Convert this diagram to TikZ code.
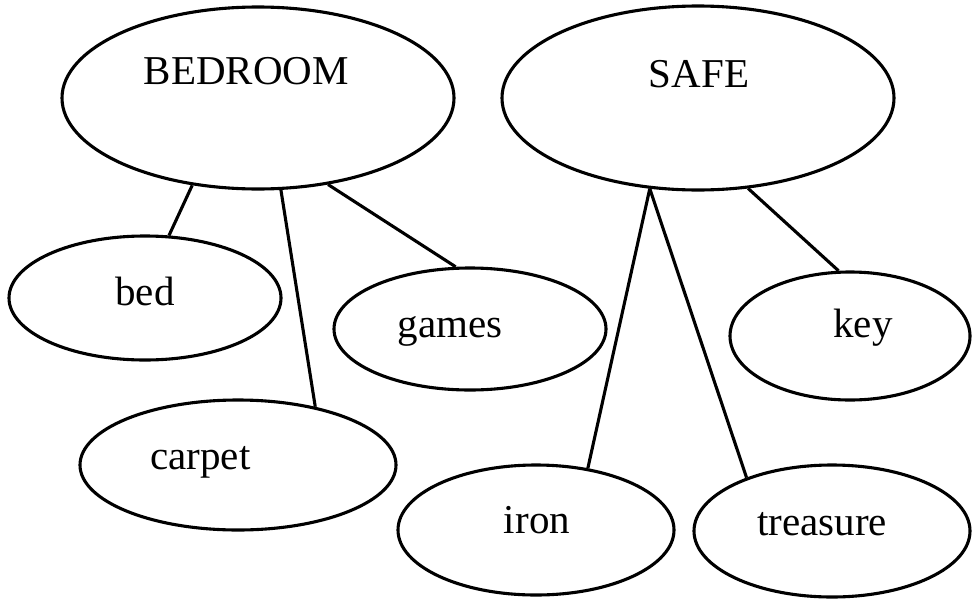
\documentclass[tikz,border=0pt]{standalone}
\usepackage{fontspec}
\setmainfont{Liberation Serif}
\usetikzlibrary{shapes.geometric}
\begin{document}
\begin{tikzpicture}[x=1pt,y=-1pt,
  oval/.style={draw,ellipse,line width=3.1pt,inner sep=0pt},
  lbl/.style={anchor=base,inner sep=0pt,font=\fontsize{41}{49}\selectfont},
  link/.style={line width=3.1pt}]
\useasboundingbox (0,0) rectangle (977,600);
\node[oval,minimum width=392pt,minimum height=182pt] (bedroom) at (258,98) {};
\node[oval,minimum width=392pt,minimum height=184pt] (safe) at (698,98) {};
\node[oval,minimum width=272pt,minimum height=124pt] (bed) at (145,298) {};
\node[oval,minimum width=272pt,minimum height=122pt] (games) at (470,329) {};
\node[oval,minimum width=316pt,minimum height=130pt] (carpet) at (238,465) {};
\node[oval,minimum width=240pt,minimum height=128pt] (key) at (850,336) {};
\node[oval,minimum width=276pt,minimum height=130pt] (iron) at (536,530) {};
\node[oval,minimum width=276pt,minimum height=132pt] (treasure) at (832,531) {};
\node[lbl] (tbedroom) at (246.5,84) {BEDROOM};
\node[lbl] (tsafe) at (699,87) {SAFE};
\node[lbl] (tbed) at (145,305) {bed};
\node[lbl] (tgames) at (450,337) {games};
\node[lbl] (tcarpet) at (200.5,469) {carpet};
\node[lbl] (tkey) at (863,337) {key};
\node[lbl] (tiron) at (537,533) {iron};
\node[lbl] (ttreasure) at (822,535) {treasure};
\draw[link] (bedroom.233) -- (bed.69);
\draw[link] (bedroom.284.6) -- (carpet.37);
\draw[link] (bedroom.309.6) -- (games.103.6);
\draw[link] (safe.242.9) -- (iron.50);
\draw[link] (safe.242.9) -- (treasure.148.4);
\draw[link] (safe.299.5) -- (key.100);
\end{tikzpicture}
\end{document}
